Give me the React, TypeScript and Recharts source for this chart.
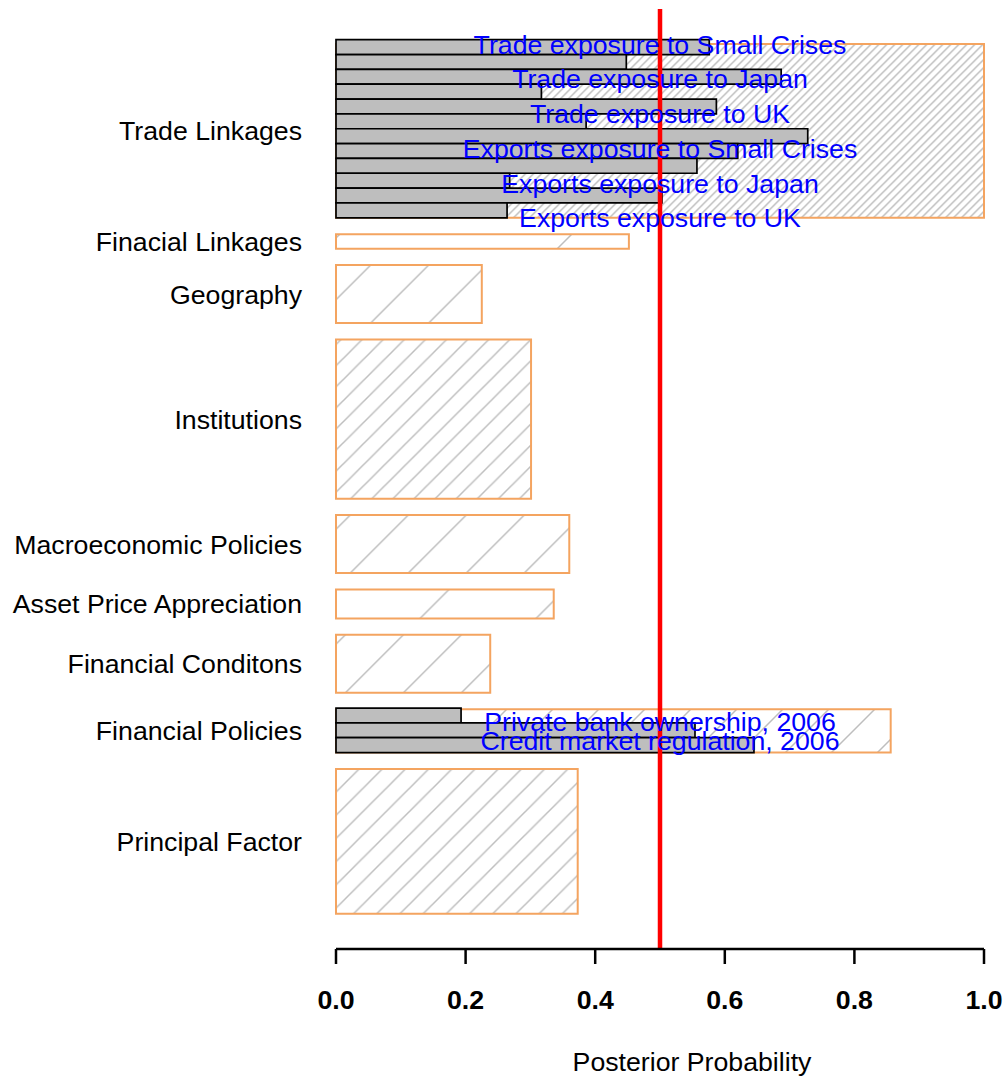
import {
  ComposedChart,
  XAxis,
  YAxis,
  ReferenceArea,
  ReferenceLine,
  ReferenceDot,
  Label,
} from "recharts";

const groups = [
  "Trade Linkages",
  "Finacial Linkages",
  "Geography",
  "Institutions",
  "Macroeconomic Policies",
  "Asset Price Appreciation",
  "Financial Conditons",
  "Financial Policies",
  "Principal Factor",
];
const groupProb = [1.0, 0.452, 0.225, 0.301, 0.36, 0.336, 0.238, 0.856, 0.373];
const groupSize = [12, 1, 4, 11, 4, 2, 4, 3, 10];

const tradeVars = [
  "Trade exposure to Small Crises",
  "Trade exposure to Japan",
  "Trade exposure to UK",
  "Exports exposure to Small Crises",
  "Exports exposure to Japan",
  "Exports exposure to UK",
];
const tradeProb = [0.576, 0.448, 0.687, 0.317, 0.587, 0.386, 0.728, 0.62, 0.557, 0.268, 0.503, 0.264];

const policyVars = ["Private bank ownership, 2006", "Credit market regulation, 2006"];
const policyProb = [0.193, 0.554, 0.645];

const xTicks = [0, 0.2, 0.4, 0.6, 0.8, 1.0];

// hatch line spacing / offset for each group box (px)
const hatchStep = [8, 232, 58, 21.1, 58, 116, 58, 46, 23.2];
const hatchPhase = [3.3, 110, 55.7, 5.4, 53.3, 110.5, 52.2, 20, 14.5];

const FONT = "Liberation Sans, Arial, Helvetica, sans-serif";
const FS = 26.7;

// barplot-style layout: bar heights = group size, space = 0.2 * mean height
const meanSize = groupSize.reduce((a, b) => a + b, 0) / groupSize.length;
const gap = 0.2 * meanSize;
const bands: { lo: number; hi: number }[] = [];
{
  let y = 0;
  for (let i = groups.length - 1; i >= 0; i--) {
    y += gap;
    bands[i] = { lo: y, hi: y + groupSize[i] };
    y += groupSize[i];
  }
}
const centers = bands.map((b) => (b.lo + b.hi) / 2);
const rows = groups.map((g, i) => ({ name: g, prob: groupProb[i], center: centers[i] }));

const subHeight = 1.025;

function subBars(groupIdx: number, values: number[]) {
  const lo = bands[groupIdx].lo;
  const n = values.length;
  return values.map((v, i) => {
    const j = n - 1 - i;
    return (
      <ReferenceArea
        key={`sub-${groupIdx}-${i}`}
        x1={0}
        x2={v}
        y1={lo + j * subHeight}
        y2={lo + (j + 1) * subHeight}
        fill="#BEBEBE"
        fillOpacity={1}
        stroke="#000"
        strokeWidth={1.7}
      />
    );
  });
}

function varLabels(groupIdx: number, names: string[], span: number) {
  const c = centers[groupIdx];
  const n = names.length;
  return names.map((t, k) => (
    <ReferenceDot
      key={`lab-${groupIdx}-${k}`}
      x={0.5}
      y={c + span / 2 - (k * span) / (n - 1)}
      r={0}
      fill="none"
      stroke="none"
      label={{ value: t, position: "center", fill: "#0000FF", fontSize: FS, fontFamily: FONT }}
    />
  ));
}

export default function App() {
  return (
    <div style={{ position: "absolute", left: 0, top: 0, background: "#fff" }}>
      <ComposedChart
        width={1006}
        height={1079}
        data={rows}
        margin={{ top: 9, right: 22, bottom: 0, left: 0 }}
      >
        <defs>
          {hatchStep.map((s, i) => (
            <pattern
              key={i}
              id={`hatch${i}`}
              patternUnits="userSpaceOnUse"
              width={s}
              height={s}
              x={hatchPhase[i]}
              y={0}
            >
              <path
                d={`M${-s / 2},${s / 2} L${s / 2},${-s / 2} M0,${s} L${s},0 M${s / 2},${s * 1.5} L${s * 1.5},${s / 2}`}
                stroke="#BEBEBE"
                strokeWidth={1.5}
              />
            </pattern>
          ))}
        </defs>
        <XAxis
          type="number"
          dataKey="prob"
          domain={[0, 1]}
          ticks={xTicks}
          interval={0}
          allowDataOverflow
          tickFormatter={(v: number) => v.toFixed(1)}
          axisLine={{ stroke: "#000", strokeWidth: 2.5 }}
          tickLine={{ stroke: "#000", strokeWidth: 2.5 }}
          tickSize={15}
          tickMargin={26}
          height={130}
          tick={{ fill: "#000", fontSize: FS, fontWeight: "bold", fontFamily: FONT }}
        >
          <Label
            value="Posterior Probability"
            position="insideBottom"
            offset={8}
            dx={32}
            fill="#000"
            fontSize={FS}
            fontFamily={FONT}
          />
        </XAxis>
        <YAxis
          type="number"
          dataKey="center"
          domain={[-1.3, 63.62]}
          ticks={centers}
          interval={0}
          allowDataOverflow
          tickFormatter={(v: number) => groups[centers.indexOf(v)] ?? ""}
          width={336}
          axisLine={false}
          tickLine={false}
          tickSize={0}
          tickMargin={34}
          tick={{ fill: "#000", fontSize: FS, fontFamily: FONT }}
        />
        {groups.map((g, i) => (
          <ReferenceArea
            key={g}
            x1={0}
            x2={groupProb[i]}
            y1={bands[i].lo}
            y2={bands[i].hi}
            fill={`url(#hatch${i})`}
            fillOpacity={1}
            stroke="#F4A460"
            strokeWidth={2}
          />
        ))}
        {subBars(0, tradeProb)}
        {subBars(7, policyProb)}
        {varLabels(0, tradeVars, 12)}
        {varLabels(7, policyVars, 1.3)}
        <ReferenceLine x={0.5} stroke="#FF0000" strokeWidth={4.5} />
      </ComposedChart>
    </div>
  );
}
